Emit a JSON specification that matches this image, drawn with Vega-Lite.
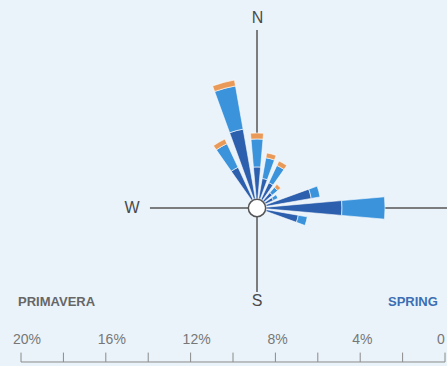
{
  "$schema": "https://vega.github.io/schema/vega-lite/v6.json",
  "width": 447,
  "height": 366,
  "autosize": {"type": "none"},
  "padding": 0,
  "background": "#eaf3fa",
  "config": {"view": {"stroke": null}, "text": {"font": "Liberation Sans"}},
  "data": {"values": [{"k": 1}]},
  "resolve": {"scale": {"x": "independent"}},
  "layer": [
    {
      "layer": [
        {"mark": {"type": "rule", "color": "#555555", "strokeWidth": 1.5},
         "encoding": {"x": {"datum": 0, "type": "quantitative", "scale": {"domain": [-12.123, 8.962], "nice": false, "zero": false}, "axis": null},
                      "y": {"datum": 0, "type": "quantitative", "scale": {"domain": [-7.453, 9.811], "nice": false, "zero": false}, "axis": null},
                      "y2": {"datum": 8.4}}},
        {"mark": {"type": "rule", "color": "#555555", "strokeWidth": 1.5},
         "encoding": {"x": {"datum": 0, "type": "quantitative"}, "y": {"datum": 0, "type": "quantitative"}, "y2": {"datum": -3.96}}},
        {"mark": {"type": "rule", "color": "#555555", "strokeWidth": 1.5},
         "encoding": {"y": {"datum": 0, "type": "quantitative"}, "x": {"datum": 0, "type": "quantitative"}, "x2": {"datum": -5.05}}},
        {"mark": {"type": "rule", "color": "#555555", "strokeWidth": 1.5},
         "encoding": {"y": {"datum": 0, "type": "quantitative"}, "x": {"datum": 0, "type": "quantitative"}, "x2": {"datum": 8.96}}},
        {
          "data": {"values": [
            {"dir": 330, "a0": 325, "a1": 335, "seg": "inner", "r0": 0, "r1": 1.67},
            {"dir": 330, "a0": 325, "a1": 335, "seg": "outer", "r0": 1.67, "r1": 2.9},
            {"dir": 330, "a0": 325, "a1": 335, "seg": "tip", "r0": 2.9, "r1": 3.14},
            {"dir": 345, "a0": 340, "a1": 350, "seg": "inner", "r0": 0, "r1": 3.33},
            {"dir": 345, "a0": 340, "a1": 350, "seg": "outer", "r0": 3.33, "r1": 5.4},
            {"dir": 345, "a0": 340, "a1": 350, "seg": "tip", "r0": 5.4, "r1": 5.68},
            {"dir": 0, "a0": -5, "a1": 5, "seg": "inner", "r0": 0, "r1": 1.49},
            {"dir": 0, "a0": -5, "a1": 5, "seg": "outer", "r0": 1.49, "r1": 2.81},
            {"dir": 0, "a0": -5, "a1": 5, "seg": "tip", "r0": 2.81, "r1": 3.09},
            {"dir": 15, "a0": 10, "a1": 20, "seg": "inner", "r0": 0, "r1": 0.97},
            {"dir": 15, "a0": 10, "a1": 20, "seg": "outer", "r0": 0.97, "r1": 1.96},
            {"dir": 15, "a0": 10, "a1": 20, "seg": "tip", "r0": 1.96, "r1": 2.19},
            {"dir": 30, "a0": 25, "a1": 35, "seg": "inner", "r0": 0, "r1": 0.87},
            {"dir": 30, "a0": 25, "a1": 35, "seg": "outer", "r0": 0.87, "r1": 1.77},
            {"dir": 30, "a0": 25, "a1": 35, "seg": "tip", "r0": 1.77, "r1": 2.0},
            {"dir": 45, "a0": 40, "a1": 50, "seg": "inner", "r0": 0, "r1": 0.5},
            {"dir": 45, "a0": 40, "a1": 50, "seg": "outer", "r0": 0.5, "r1": 0.83},
            {"dir": 45, "a0": 40, "a1": 50, "seg": "tip", "r0": 0.83, "r1": 1.01},
            {"dir": 60, "a0": 55, "a1": 65, "seg": "inner", "r0": 0, "r1": 0.4},
            {"dir": 60, "a0": 55, "a1": 65, "seg": "outer", "r0": 0.4, "r1": 0.64},
            {"dir": 75, "a0": 70, "a1": 80, "seg": "inner", "r0": 0, "r1": 2.15},
            {"dir": 75, "a0": 70, "a1": 80, "seg": "outer", "r0": 2.15, "r1": 2.57},
            {"dir": 90, "a0": 85, "a1": 95, "seg": "inner", "r0": 0, "r1": 3.56},
            {"dir": 90, "a0": 85, "a1": 95, "seg": "outer", "r0": 3.56, "r1": 5.59},
            {"dir": 105, "a0": 100, "a1": 110, "seg": "inner", "r0": 0, "r1": 1.53},
            {"dir": 105, "a0": 100, "a1": 110, "seg": "outer", "r0": 1.53, "r1": 1.96}
          ]},
          "mark": {"type": "arc", "stroke": "#ffffff", "strokeWidth": 0.6},
          "encoding": {
            "x": {"datum": 0, "type": "quantitative"},
            "y": {"datum": 0, "type": "quantitative"},
            "theta": {"field": "a0", "type": "quantitative", "scale": {"type": "linear", "domain": [0, 360], "range": [0, 6.283185307]}},
            "theta2": {"field": "a1"},
            "radius": {"field": "r1", "type": "quantitative", "scale": {"type": "linear", "domain": [0, 20], "range": [9.5, 433.5], "zero": false}},
            "radius2": {"field": "r0"},
            "color": {"field": "seg", "type": "nominal", "scale": {"domain": ["inner", "outer", "tip"], "range": ["#2c5fad", "#3b93db", "#e99a58"]}, "legend": null}
          }
        },
        {"mark": {"type": "point", "shape": "circle", "filled": true, "fill": "#ffffff", "stroke": "#555555", "strokeWidth": 1.5, "size": 300, "opacity": 1},
         "encoding": {"x": {"datum": 0, "type": "quantitative"}, "y": {"datum": 0, "type": "quantitative"}}},
        {"mark": {"type": "text", "text": "N", "fontSize": 16, "color": "#4a4a4a", "baseline": "middle", "align": "center"},
         "encoding": {"x": {"datum": 0.03, "type": "quantitative"}, "y": {"datum": 8.96, "type": "quantitative"}}},
        {"mark": {"type": "text", "text": "S", "fontSize": 16, "color": "#4a4a4a", "baseline": "middle", "align": "center"},
         "encoding": {"x": {"datum": 0, "type": "quantitative"}, "y": {"datum": -4.39, "type": "quantitative"}}},
        {"mark": {"type": "text", "text": "W", "fontSize": 16, "color": "#4a4a4a", "baseline": "middle", "align": "center"},
         "encoding": {"x": {"datum": -5.9, "type": "quantitative"}, "y": {"datum": 0, "type": "quantitative"}}}
      ]
    },
    {
      "layer": [
        {"mark": {"type": "rule", "color": "#8a8a8a", "strokeWidth": 1},
         "encoding": {"x": {"datum": 0, "type": "quantitative", "scale": {"domain": [-0.0943, 20.991], "reverse": true, "nice": false, "zero": false}, "axis": null},
                      "x2": {"datum": 20},
                      "y": {"datum": -7.264, "type": "quantitative"}}},
        {"data": {"values": [{"p": 0}, {"p": 2}, {"p": 4}, {"p": 6}, {"p": 8}, {"p": 10}, {"p": 12}, {"p": 14}, {"p": 16}, {"p": 18}, {"p": 20}]},
         "mark": {"type": "rule", "color": "#8a8a8a", "strokeWidth": 1},
         "encoding": {"x": {"field": "p", "type": "quantitative"},
                      "y": {"datum": -7.264, "type": "quantitative"}, "y2": {"datum": -6.82}}},
        {"data": {"values": [{"p": 0, "label": "0"}, {"p": 4, "label": "4%"}, {"p": 8, "label": "8%"}, {"p": 12, "label": "12%"}, {"p": 16, "label": "16%"}, {"p": 20, "label": "20%"}]},
         "mark": {"type": "text", "fontSize": 14, "color": "#777777", "align": "left", "dx": -8, "baseline": "middle"},
         "encoding": {"x": {"field": "p", "type": "quantitative"}, "y": {"datum": -6.23, "type": "quantitative"}, "text": {"field": "label"}}},
        {"mark": {"type": "text", "text": "PRIMAVERA", "fontSize": 13, "fontWeight": "bold", "color": "#666666", "align": "left", "baseline": "middle"},
         "encoding": {"x": {"datum": 20.14, "type": "quantitative"}, "y": {"datum": -4.43, "type": "quantitative"}}},
        {"mark": {"type": "text", "text": "SPRING", "fontSize": 13, "fontWeight": "bold", "color": "#3c6eb4", "align": "left", "baseline": "middle"},
         "encoding": {"x": {"datum": 2.69, "type": "quantitative"}, "y": {"datum": -4.43, "type": "quantitative"}}}
      ]
    }
  ]
}
